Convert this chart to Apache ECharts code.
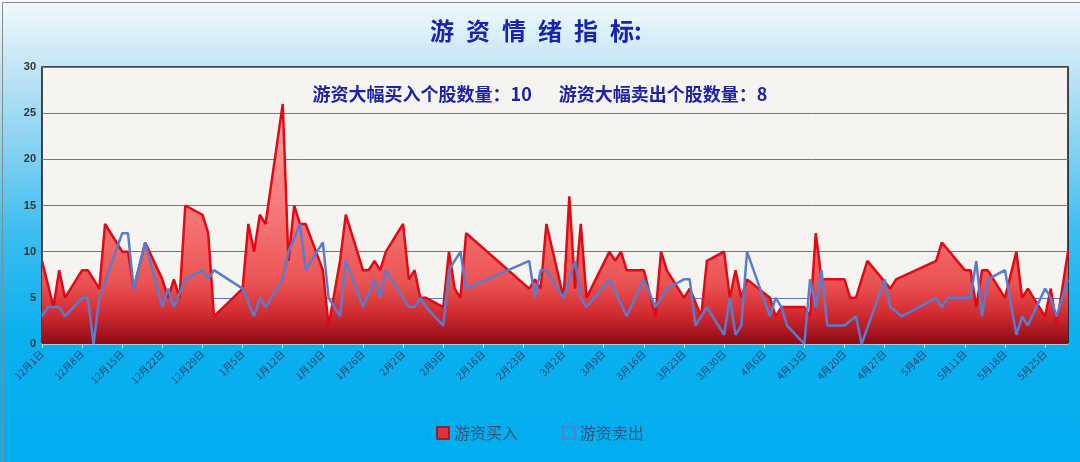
<!DOCTYPE html>
<html>
<head>
<meta charset="utf-8">
<script src="https://cdn.jsdelivr.net/npm/echarts@6/dist/echarts.min.js"></script>
<style>
html,body{margin:0;padding:0;width:1080px;height:462px;overflow:hidden;}
#chart{width:1080px;height:462px;}
</style>
</head>
<body>
<div id="chart"></div>
<script>
// ---- data ----
const titleText = '游\u2002资\u2002情\u2002绪\u2002指\u2002标:';
const noteText = '游资大幅买入个股数量：10\u2003\u2002游资大幅卖出个股数量：8';
const seriesNames = ['游资买入', '游资卖出'];

const buyDates = ['2025-12-01','2025-12-03','2025-12-04','2025-12-05','2025-12-08','2025-12-09','2025-12-11','2025-12-12','2025-12-15','2025-12-16','2025-12-17','2025-12-19','2025-12-22','2025-12-23','2025-12-24','2025-12-25','2025-12-26','2025-12-29','2025-12-30','2025-12-31',
  '2026-01-05','2026-01-06','2026-01-07','2026-01-08','2026-01-09','2026-01-12','2026-01-13','2026-01-14','2026-01-15','2026-01-16','2026-01-19','2026-01-20','2026-01-22','2026-01-23','2026-01-26','2026-01-27','2026-01-28','2026-01-29','2026-01-30',
  '2026-02-02','2026-02-03','2026-02-04','2026-02-05','2026-02-06','2026-02-09','2026-02-10','2026-02-11','2026-02-12','2026-02-13','2026-02-24','2026-02-25','2026-02-26','2026-02-27',
  '2026-03-02','2026-03-03','2026-03-04','2026-03-05','2026-03-06','2026-03-10','2026-03-11','2026-03-12','2026-03-13','2026-03-16','2026-03-18','2026-03-19','2026-03-20','2026-03-23','2026-03-24','2026-03-26','2026-03-27','2026-03-30','2026-03-31',
  '2026-04-01','2026-04-02','2026-04-03','2026-04-07','2026-04-08','2026-04-09','2026-04-13','2026-04-14','2026-04-15','2026-04-16','2026-04-20','2026-04-21','2026-04-22','2026-04-24','2026-04-28','2026-04-29',
  '2026-05-06','2026-05-07','2026-05-11','2026-05-12','2026-05-13','2026-05-14','2026-05-15','2026-05-18','2026-05-20','2026-05-21','2026-05-22','2026-05-25','2026-05-26','2026-05-27','2026-05-29'];
const buyValues = [9,4,8,5,8,8,6,13,10,10,6,11,7,5,7,5,15,14,12,3,
  6,13,10,14,13,26,9,15,13,13,8,2,9,14,8,8,9,8,10,
  13,7,8,5,5,4,10,6,5,12,6,7,6,13,
  5,16,6,13,5,10,9,10,8,8,3,10,8,5,6,3,9,10,5,
  8,5,7,5,3,4,4,3,12,7,7,5,5,9,6,7,
  9,11,8,8,4,8,8,5,10,5,6,3,6,2,10];

const sellDates = ['2025-12-01','2025-12-02','2025-12-04','2025-12-05','2025-12-08','2025-12-09','2025-12-10','2025-12-11','2025-12-15','2025-12-16','2025-12-17','2025-12-19','2025-12-22','2025-12-23','2025-12-24','2025-12-26','2025-12-29','2025-12-30','2025-12-31',
  '2026-01-05','2026-01-07','2026-01-08','2026-01-09','2026-01-12','2026-01-13','2026-01-15','2026-01-16','2026-01-19','2026-01-20','2026-01-22','2026-01-23','2026-01-26','2026-01-28','2026-01-29','2026-01-30',
  '2026-02-03','2026-02-04','2026-02-05','2026-02-06','2026-02-09','2026-02-10','2026-02-12','2026-02-13','2026-02-24','2026-02-25','2026-02-26','2026-02-27',
  '2026-03-02','2026-03-04','2026-03-05','2026-03-06','2026-03-10','2026-03-13','2026-03-16','2026-03-18','2026-03-20','2026-03-23','2026-03-24','2026-03-25','2026-03-27','2026-03-30','2026-03-31',
  '2026-04-01','2026-04-02','2026-04-03','2026-04-07','2026-04-08','2026-04-09','2026-04-10','2026-04-13','2026-04-14','2026-04-15','2026-04-16','2026-04-17','2026-04-20','2026-04-22','2026-04-23','2026-04-27','2026-04-28','2026-04-30',
  '2026-05-06','2026-05-07','2026-05-08','2026-05-12','2026-05-13','2026-05-14','2026-05-15','2026-05-18','2026-05-20','2026-05-21','2026-05-22','2026-05-25','2026-05-26','2026-05-27','2026-05-29'];
const sellValues = [3,4,4,3,5,5,0,5,12,12,6,11,4,6,4,7,8,7,8,
  6,3,5,4,7,10,13,8,11,5,3,9,4,7,5,8,
  4,4,5,4,2,8,10,6,9,5,8,8,
  5,9,5,4,7,3,7,4,6,7,7,2,4,1,5,
  1,2,10,3,5,4,2,0,7,4,8,2,2,3,0,7,4,3,
  5,4,5,5,9,3,7,8,1,3,2,6,5,3,7];

const axisStart = '2025-12-01';
const axisEnd = '2026-05-29';
const yTicks = {min: 0, max: 30, step: 5};

// ---- build ----
const DAY = 86400000;
const base = Date.parse(axisStart);
const toDay = s => Math.round((Date.parse(s) - base) / DAY);
const buyData = buyDates.map((d, i) => [toDay(d), buyValues[i]]);
const sellData = sellDates.map((d, i) => [toDay(d), sellValues[i]]);

const chart = echarts.init(document.getElementById('chart'));
chart.setOption({
  animation: false,
  backgroundColor: {
    type: 'linear', x: 0, y: 0, x2: 0, y2: 1,
    colorStops: [
      {offset: 0, color: '#f3f9fc'},
      {offset: 0.14, color: '#c4e6f5'},
      {offset: 0.32, color: '#86d2f2'},
      {offset: 0.5, color: '#3dbef0'},
      {offset: 0.72, color: '#0bb0ee'},
      {offset: 1, color: '#02aeee'}
    ]
  },
  title: {
    text: titleText,
    left: 531, top: 14, textAlign: 'center',
    textStyle: {fontFamily: 'Noto Sans CJK SC', fontWeight: 'bold', fontSize: 24, color: '#1a22b0'}
  },
  graphic: [
    {type: 'text', left: 'center', top: 85, z: 100,
     style: {text: noteText, fontFamily: 'Noto Sans CJK SC', fontWeight: 'bold', fontSize: 18, fill: '#1d22a6'}},
    {type: 'rect', left: 0, top: 0, z: -1, silent: true,
     shape: {width: 1079, height: 461}, style: {fill: 'none', stroke: '#8a8a8a', lineWidth: 1}}
  ],
  legend: {
    bottom: 16, left: 'center',
    itemWidth: 12, itemHeight: 12, itemGap: 44,
    textStyle: {fontFamily: 'Noto Sans CJK SC', fontSize: 16, color: '#34527a'},
    data: [
      {name: seriesNames[0], icon: 'rect', itemStyle: {color: '#e0303a', borderColor: '#9a0d18', borderWidth: 1.5}},
      {name: seriesNames[1], icon: 'rect', itemStyle: {color: 'rgba(0,0,0,0)', borderColor: '#5b7ccc', borderWidth: 1.5}}
    ]
  },
  grid: {
    left: 42, right: 12, top: 67, bottom: 118,
    show: true, backgroundColor: '#f6f4f1', borderColor: '#111', borderWidth: 1.5
  },
  xAxis: {
    type: 'value', min: 0, max: toDay(axisEnd), interval: 7,
    splitLine: {show: false},
    axisLine: {show: true, lineStyle: {color: '#a9cbea', width: 2}},
    axisTick: {show: true, length: 4, lineStyle: {color: '#d6ebf8'}},
    axisLabel: {
      rotate: 45, fontSize: 10, color: '#23406e', fontFamily: 'Noto Sans CJK SC', margin: 8,
      showMaxLabel: false,
      formatter: v => {
        if (v % 7 !== 0) return '';
        const d = new Date(base + v * DAY);
        return (d.getUTCMonth() + 1) + '月' + d.getUTCDate() + '日';
      }
    }
  },
  yAxis: {
    type: 'value', min: yTicks.min, max: yTicks.max, interval: yTicks.step,
    axisLine: {show: false}, axisTick: {show: false},
    splitLine: {lineStyle: {color: '#5b77c2', width: 1}},
    axisLabel: {fontSize: 11, color: '#333', fontFamily: 'Liberation Sans', fontWeight: 'bold', margin: 6}
  },
  series: [
    {
      name: seriesNames[0], type: 'line', data: buyData, symbol: 'none', z: 2,
      lineStyle: {color: '#e10a14', width: 2.5},
      itemStyle: {color: '#e0303a'},
      areaStyle: {
        opacity: 1,
        color: {type: 'linear', x: 0, y: 0, x2: 0, y2: 1, colorStops: [
          {offset: 0, color: '#ffa3a3'},
          {offset: 0.5, color: '#f47272'},
          {offset: 0.75, color: '#eb5252'},
          {offset: 0.88, color: '#d02a30'},
          {offset: 1, color: '#8c0a14'}
        ]}
      }
    },
    {
      name: seriesNames[1], type: 'line', data: sellData, symbol: 'none', z: 3,
      lineStyle: {color: '#5b7ccc', width: 2.5},
      itemStyle: {color: '#5b7ccc'}
    }
  ]
});
</script>
</body>
</html>
